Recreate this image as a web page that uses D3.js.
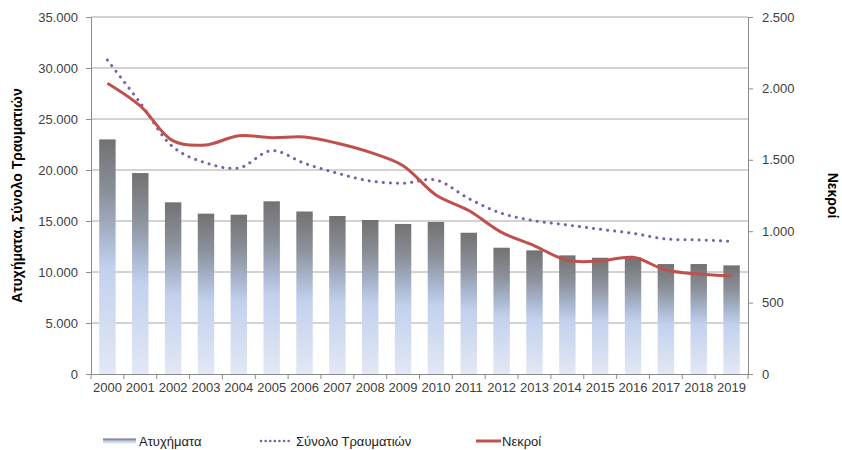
<!DOCTYPE html>
<html lang="el">
<head>
  <meta charset="UTF-8">
  <title>Ατυχήματα, Τραυματίες, Νεκροί</title>
  <script src="https://cdn.jsdelivr.net/npm/d3@7/dist/d3.min.js"></script>
  <style>
    body { margin: 0; background: #fff; }
    text { font-family: 'Liberation Sans', Arial, sans-serif; }
    .tick text { fill: #404040; font-size: 13px; }
    .axis-title { font-weight: bold; font-size: 14px; fill: #000; }
    .legend text { font-size: 13px; fill: #222; }
  </style>
</head>
<body>
  <div id="chart"></div>
  <script>
    const years = ['2000', '2001', '2002', '2003', '2004', '2005', '2006', '2007', '2008', '2009',
      '2010', '2011', '2012', '2013', '2014', '2015', '2016', '2017', '2018', '2019'];
    const accidents = [23000, 19700, 16830, 15720, 15620, 16930, 15930, 15490, 15100, 14710,
      14900, 13850, 12380, 12120, 11630, 11400, 11440, 10780, 10780, 10650];
    const injured = [30780, 26570, 22250, 20690, 20200, 21900, 20650, 19680, 18920, 18700,
      19020, 17200, 15750, 15030, 14610, 14190, 13790, 13240, 13140, 13010];
    const deaths = [2036, 1877, 1632, 1604, 1669, 1655, 1660, 1616, 1552, 1459,
      1254, 1145, 992, 898, 796, 791, 817, 728, 700, 686];
    const leftTicks = [0, 5000, 10000, 15000, 20000, 25000, 30000, 35000];
    const rightTicks = [0, 500, 1000, 1500, 2000, 2500];

    const W = 842, H = 450;
    const margin = { top: 17, right: 94, bottom: 76, left: 91 };
    const width = W - margin.left - margin.right;
    const height = H - margin.top - margin.bottom;

    const svg = d3.select('#chart').append('svg')
      .attr('width', W).attr('height', H);
    const g = svg.append('g')
      .attr('transform', `translate(${margin.left},${margin.top})`);

    const x = d3.scaleBand().domain(years).range([0, width]).paddingInner(0.5).paddingOuter(0.25);
    const yL = d3.scaleLinear().domain([0, 35000]).range([height, 0]);
    const yR = d3.scaleLinear().domain([0, 2500]).range([height, 0]);
    const fmt = d3.format(',');
    const grFmt = v => fmt(v).replace(/,/g, '.');

    // gradient for bars
    const defs = svg.append('defs');
    const grad = defs.append('linearGradient').attr('id', 'barGrad')
      .attr('x1', 0).attr('y1', 0).attr('x2', 0).attr('y2', 1);
    [['0%', '#727272'], ['22%', '#8a8f98'], ['42%', '#aab7d0'], ['55%', '#c3d1ee'], ['100%', '#e2e8f4']]
      .forEach(s => grad.append('stop').attr('offset', s[0]).attr('stop-color', s[1]));

    // gridlines
    g.append('g').selectAll('line').data(leftTicks.filter(d => d > 0)).enter().append('line')
      .attr('x1', 0).attr('x2', width)
      .attr('y1', d => yL(d)).attr('y2', d => yL(d))
      .attr('stroke', '#a6a6a6').attr('stroke-width', 1);

    // bars
    g.append('g').selectAll('rect').data(accidents).enter().append('rect')
      .attr('x', (d, i) => x(years[i]))
      .attr('y', d => yL(d))
      .attr('width', x.bandwidth())
      .attr('height', d => height - yL(d))
      .attr('fill', 'url(#barGrad)');

    // axes
    const leftAxis = g.append('g')
      .call(d3.axisLeft(yL).tickValues(leftTicks).tickFormat(grFmt).tickSize(5).tickPadding(8));
    const rightAxis = g.append('g').attr('transform', `translate(${width},0)`)
      .call(d3.axisRight(yR).tickValues(rightTicks).tickFormat(grFmt).tickSize(5).tickPadding(9));
    const bottomAxis = g.append('g').attr('transform', `translate(0,${height})`)
      .call(d3.axisBottom(x).tickSize(0).tickPadding(9));
    [leftAxis, rightAxis, bottomAxis].forEach(a => {
      a.select('.domain').attr('stroke', '#8c8c8c');
      a.selectAll('.tick line').attr('stroke', '#8c8c8c');
    });
    bottomAxis.selectAll('.tick text').attr('dy', '0.71em');
    bottomAxis.append('g').selectAll('line').data(d3.range(years.length + 1)).enter().append('line')
      .attr('x1', i => i * x.step()).attr('x2', i => i * x.step())
      .attr('y1', 0).attr('y2', 5)
      .attr('stroke', '#8c8c8c');

    // lines
    const cx = i => x(years[i]) + x.bandwidth() / 2;
    const injLine = d3.line().x((d, i) => cx(i)).y(d => yL(d)).curve(d3.curveCatmullRom);
    const deathLine = d3.line().x((d, i) => cx(i)).y(d => yR(d)).curve(d3.curveCatmullRom);

    g.append('path').datum(injured)
      .attr('d', injLine)
      .attr('fill', 'none')
      .attr('stroke', '#7b5ea7')
      .attr('stroke-width', 3)
      .attr('stroke-linecap', 'round')
      .attr('stroke-dasharray', '0.1 7');

    g.append('path').datum(deaths)
      .attr('d', deathLine)
      .attr('fill', 'none')
      .attr('stroke', '#c0504d')
      .attr('stroke-width', 3);

    // axis titles
    svg.append('text').attr('class', 'axis-title')
      .attr('transform', `translate(22,${margin.top + height / 2}) rotate(-90)`)
      .attr('text-anchor', 'middle')
      .text('Ατυχήματα, Σύνολο Τραυματιών');
    svg.append('text').attr('class', 'axis-title')
      .attr('transform', `translate(828,${margin.top + height / 2}) rotate(90)`)
      .attr('text-anchor', 'middle')
      .text('Νεκροί');

    // legend
    const legend = svg.append('g').attr('class', 'legend').attr('transform', 'translate(0,441)');
    legend.append('rect').attr('x', 103).attr('y', -2.5).attr('width', 33).attr('height', 5)
      .attr('fill', 'url(#barGrad)');
    legend.append('text').attr('x', 139).attr('dy', '0.35em').text('Ατυχήματα');

    legend.append('line').attr('x1', 261).attr('x2', 291).attr('y1', 0).attr('y2', 0)
      .attr('stroke', '#7b5ea7').attr('stroke-width', 2.5)
      .attr('stroke-linecap', 'round').attr('stroke-dasharray', '0.1 4.5');
    legend.append('text').attr('x', 296).attr('dy', '0.35em').text('Σύνολο Τραυματιών');

    legend.append('line').attr('x1', 476).attr('x2', 501).attr('y1', 0).attr('y2', 0)
      .attr('stroke', '#c0504d').attr('stroke-width', 3);
    legend.append('text').attr('x', 502).attr('dy', '0.35em').text('Νεκροί');
  </script>
</body>
</html>
